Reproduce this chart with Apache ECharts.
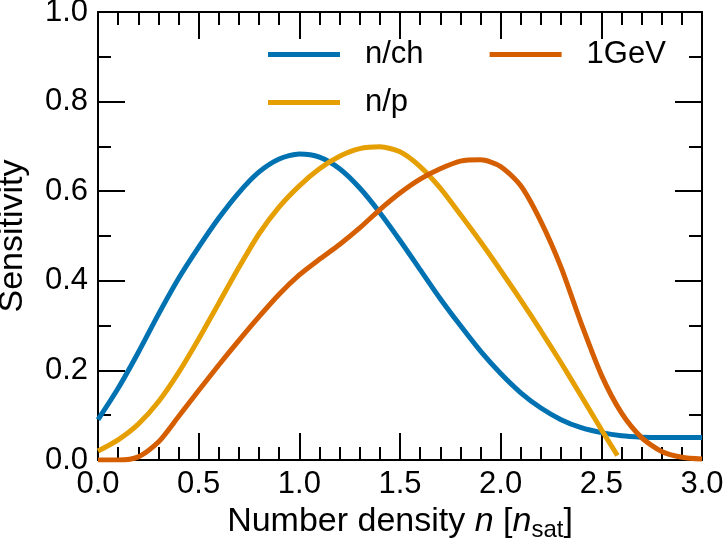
<!DOCTYPE html>
<html>
<head>
<meta charset="utf-8">
<script src="https://cdn.jsdelivr.net/npm/echarts@6/dist/echarts.min.js"></script>
<style>
html,body{margin:0;padding:0;background:#fff;}
#chart{width:724px;height:545px;}
</style>
</head>
<body>
<div id="chart"></div>
<script>
// Data
const xTickLabels = ['0.0','0.5','1.0','1.5','2.0','2.5','3.0'];
const yTickLabels = ['0.0','0.2','0.4','0.6','0.8','1.0'];

const nchX = [0.0,0.1,0.2,0.3,0.4,0.5,0.6,0.7,0.8,0.9,1.0,1.1,1.2,1.3,1.4,1.5,1.6,1.7,1.8,1.9,2.0,2.1,2.2,2.3,2.4,2.5,2.6,2.7,2.8,2.9,3.0];
const nchY = [0.09,0.16,0.24,0.325,0.405,0.475,0.54,0.597,0.643,0.672,0.683,0.676,0.65,0.607,0.552,0.49,0.425,0.36,0.3,0.243,0.193,0.15,0.116,0.09,0.072,0.061,0.054,0.051,0.05,0.05,0.05];

const npX = [0.0,0.1,0.2,0.3,0.4,0.5,0.6,0.7,0.8,0.9,1.0,1.1,1.2,1.3,1.4,1.5,1.6,1.7,1.8,1.9,2.0,2.1,2.2,2.3,2.4,2.5,2.58];
const npY = [0.02,0.045,0.08,0.13,0.195,0.27,0.35,0.43,0.505,0.565,0.612,0.65,0.678,0.695,0.699,0.688,0.655,0.607,0.548,0.487,0.423,0.357,0.288,0.217,0.143,0.068,0.01];

const gevX = [0.0,0.1,0.2,0.3,0.4,0.5,0.6,0.7,0.8,0.9,1.0,1.1,1.2,1.3,1.4,1.5,1.6,1.7,1.8,1.9,2.0,2.1,2.2,2.3,2.4,2.5,2.6,2.7,2.8,2.9,3.0];
const gevY = [0.0,0.0,0.007,0.04,0.097,0.155,0.212,0.267,0.32,0.37,0.413,0.448,0.481,0.518,0.559,0.596,0.627,0.65,0.667,0.67,0.655,0.612,0.532,0.43,0.305,0.19,0.105,0.05,0.019,0.006,0.002];

const seriesNames = ['n/ch','n/p','1GeV'];
const seriesColors = ['#0072B2','#E69F00','#D55E00'];

function pairs(xs, ys){ return xs.map((x,i)=>[x, ys[i]]); }

const FONT = 'Liberation Sans';
const chart = echarts.init(document.getElementById('chart'), null, {renderer:'canvas'});

function axisBase(extra){
  return Object.assign({
    type:'value',
    axisLine:{show:true, onZero:false, lineStyle:{color:'#000', width:2}},
    axisTick:{show:true, inside:true, length:27, lineStyle:{color:'#000', width:2}},
    splitLine:{show:false}
  }, extra);
}

const legendText = {fontFamily:FONT, fontSize:31, color:'#000', lineHeight:31, padding:[0,0,0,20]};

const option = {
  animation:false,
  backgroundColor:'#fff',
  grid:{left:98, right:22, top:12, bottom:85, containLabel:false, outerBoundsMode:'none'},
  legend:[
    {
      data:['n/ch','1GeV'],
      left:268, top:39, padding:0,
      icon:'rect', itemWidth:72, itemHeight:5, itemGap:66,
      textStyle:legendText, selectedMode:false
    },
    {
      data:['n/p'],
      left:268, top:87, padding:0,
      icon:'rect', itemWidth:72, itemHeight:5, itemGap:66,
      textStyle:legendText, selectedMode:false
    }
  ],
  xAxis:[
    axisBase({
      position:'bottom', min:0, max:3, interval:0.5,
      minorTick:{show:true, splitNumber:5, length:13, lineStyle:{color:'#000', width:2}},
      axisLabel:{show:true, margin:9, fontFamily:FONT, fontSize:31, color:'#000',
        formatter:(v)=>xTickLabels[Math.round(v/0.5)]},
      name:'{t|Number density }{i|n}{t| [}{i|n}{s|sat}{t|]}',
      nameLocation:'middle', nameGap:42,
      nameTextStyle:{rich:{
        t:{fontFamily:FONT, fontSize:34, color:'#000', lineHeight:40},
        i:{fontFamily:FONT, fontSize:34, color:'#000', fontStyle:'italic', lineHeight:40},
        s:{fontFamily:FONT, fontSize:24, color:'#000', lineHeight:22, verticalAlign:'bottom'}
      }}
    }),
    axisBase({
      position:'top', min:0, max:3, interval:0.5,
      minorTick:{show:true, splitNumber:5, length:13, lineStyle:{color:'#000', width:2}},
      axisLabel:{show:false}
    })
  ],
  yAxis:[
    axisBase({
      position:'left', min:0, max:1, interval:0.2,
      minorTick:{show:true, splitNumber:2, length:13, lineStyle:{color:'#000', width:2}},
      axisLabel:{show:true, margin:10, fontFamily:FONT, fontSize:31, color:'#000',
        formatter:(v)=>yTickLabels[Math.round(v/0.2)]},
      name:'Sensitivity', nameLocation:'middle', nameGap:68, nameRotate:90,
      nameTextStyle:{fontFamily:FONT, fontSize:34, color:'#000', lineHeight:34}
    }),
    axisBase({
      position:'right', min:0, max:1, interval:0.2,
      minorTick:{show:true, splitNumber:2, length:13, lineStyle:{color:'#000', width:2}},
      axisLabel:{show:false}
    })
  ],
  series:[
    {name:seriesNames[0], type:'line', xAxisIndex:0, yAxisIndex:0, data:pairs(nchX,nchY),
     smooth:0.25, showSymbol:false, symbol:'none', color:seriesColors[0], lineStyle:{width:5, color:seriesColors[0]}, z:3},
    {name:seriesNames[1], type:'line', xAxisIndex:0, yAxisIndex:0, data:pairs(npX,npY),
     smooth:0.25, showSymbol:false, symbol:'none', color:seriesColors[1], lineStyle:{width:5, color:seriesColors[1]}, z:4},
    {name:seriesNames[2], type:'line', xAxisIndex:0, yAxisIndex:0, data:pairs(gevX,gevY),
     smooth:0.25, showSymbol:false, symbol:'none', color:seriesColors[2], lineStyle:{width:5, color:seriesColors[2]}, z:5}
  ]
};
chart.setOption(option);
</script>
</body>
</html>
